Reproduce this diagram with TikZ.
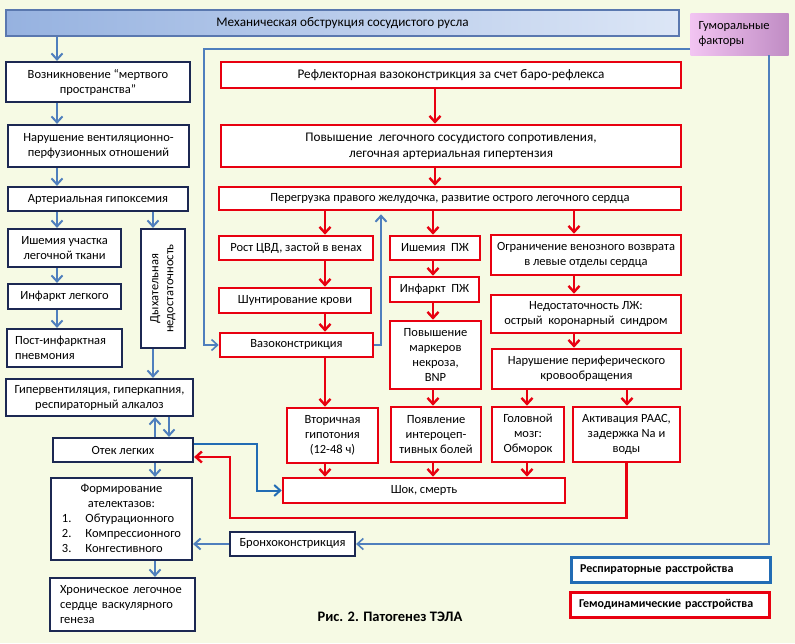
\documentclass[tikz,border=0pt]{standalone}
\usepackage{fontspec}
\setmainfont{Carlito}
\usetikzlibrary{arrows.meta}
\definecolor{bgcol}{RGB}{246,250,228}
\definecolor{navy}{RGB}{28,40,82}
\definecolor{hemored}{RGB}{232,0,16}
\definecolor{steel}{RGB}{79,127,189}
\definecolor{respblue}{RGB}{34,108,180}
\begin{document}
\begin{tikzpicture}[x=1pt,y=-1pt,
  >={Straight Barb[length=6pt,width=11pt]},
  every node/.style={font=\fontsize{12.5}{15}\selectfont,inner sep=2pt},
  bigtext/.style={font=\fontsize{13.2}{16}\selectfont},
  resbox/.style={draw=navy,line width=2.2pt,fill=white,align=center},
  hembox/.style={draw=hemored,line width=2.6pt,fill=white,align=center},
  resarr/.style={draw=steel,line width=2pt,->},
  hemarr/.style={draw=hemored,line width=2.4pt,->},
  humline/.style={draw=steel,line width=1.6pt,->},
  legbox/.style={line width=3pt,fill=white,align=left,inner xsep=9pt,text width=181pt,
    minimum height=25pt,font=\bfseries\fontsize{12}{14}\selectfont}]
\fill[bgcol] (0,0) rectangle (795,643);
\coordinate (lc) at (57,0);
\coordinate (dc) at (153,0);
\coordinate (ec1) at (155,0);
\coordinate (ec2) at (169,0);
\coordinate (r0) at (435,0);
\coordinate (r1) at (325,0);
\coordinate (r2) at (433,0);
\coordinate (r3) at (574,0);
\coordinate (r4) at (527,0);
\coordinate (r5) at (627,0);
\coordinate (vx) at (381,0);
\coordinate (sx) at (257,0);
\coordinate (hd) at (769,0);
\coordinate (hbend) at (204,49);
\coordinate (rloop) at (230,518);

\node[bigtext,draw={rgb,255:red,90;green,120;blue,175},line width=1.5pt,
  left color={rgb,255:red,150;green,178;blue,224},right color={rgb,255:red,220;green,230;blue,246},
  minimum width=673pt,minimum height=26pt] (top) at (342.5,23) {Механическая обструкция сосудистого русла};
\node[left color={rgb,255:red,242;green,196;blue,242},right color={rgb,255:red,192;green,140;blue,196},
  align=left,text width=82pt,inner xsep=8pt,minimum height=42pt] (hum) at (739.5,34) {Гуморальные\\факторы};

\node[resbox,minimum width=184pt,minimum height=40pt] (dead) at (98,82) {Возникновение “мертвого\\пространства”};
\node[resbox,minimum width=181pt,minimum height=42pt] (vq) at (98.5,146) {Нарушение вентиляционно-\\перфузионных отношений};
\node[resbox,minimum width=180pt,minimum height=24pt] (hypox) at (98,199) {Артериальная гипоксемия};
\node[resbox,minimum width=113pt,minimum height=38pt] (isch) at (64.5,248) {Ишемия участка\\легочной ткани};
\node[resbox,minimum width=113pt,minimum height=25pt] (infl) at (64.5,296.5) {Инфаркт легкого};
\node[resbox,align=left,text width=99pt,inner xsep=8pt,minimum height=38pt] (pneum) at (64.5,348) {Пост-инфарктная\\пневмония};
\node[resbox,rotate=90,minimum width=119pt,minimum height=44pt] (resp) at (163,288.5) {Дыхательная\\недостаточность};
\node[resbox,minimum width=187pt,minimum height=37pt] (hyper) at (99.5,397.5) {Гипервентиляция, гиперкапния,\\респираторный алкалоз};
\node[resbox,minimum width=140pt,minimum height=24pt] (edema) at (123,450) {Отек легких};
\node[resbox,minimum width=141pt,minimum height=82pt] (atel) at (121.5,519) {\begin{tabular}{@{}l@{\hspace{14pt}}l@{}}
  \multicolumn{2}{c}{Формирование}\\ \multicolumn{2}{c}{ателектазов:}\\
  1. & Обтурационного\\ 2. & Компрессионного\\ 3. & Конгестивного\end{tabular}};
\node[resbox,align=left,text width=125pt,inner xsep=10pt,minimum height=53pt] (chron) at (122.5,604.5) {Хроническое легочное\\сердце васкулярного\\генеза};
\node[resbox,minimum width=125pt,minimum height=24pt] (broncho) at (292.5,544) {Бронхоконстрикция};

\node[hembox,bigtext,minimum width=460pt,minimum height=26pt] (refl) at (451,75) {Рефлекторная вазоконстрикция за счет баро-рефлекса};
\node[hembox,bigtext,minimum width=460pt,minimum height=42pt] (res) at (451,146) {Повышение\ \ легочного сосудистого сопротивления,\\легочная артериальная гипертензия};
\node[hembox,minimum width=462pt,minimum height=23pt] (over) at (450,198.5) {Перегрузка правого желудочка, развитие острого легочного сердца};
\node[hembox,minimum width=154pt,minimum height=24pt] (cvp) at (296,248) {Рост ЦВД, застой в венах};
\node[hembox,minimum width=152pt,minimum height=25pt] (shunt) at (295,300.5) {Шунтирование крови};
\node[hembox,minimum width=153pt,minimum height=24pt] (vaso) at (296.5,345) {Вазоконстрикция};
\node[hembox,minimum width=90pt,minimum height=24pt] (rvisch) at (435,248) {Ишемия\ \ ПЖ};
\node[hembox,minimum width=89pt,minimum height=25pt] (rvinf) at (434.5,289.5) {Инфаркт\ \ ПЖ};
\node[hembox,minimum width=91pt,minimum height=68pt] (mark) at (435.5,355) {Повышение\\маркеров\\некроза,\\BNP};
\node[hembox,minimum width=190pt,minimum height=40pt] (venret) at (586,255) {Ограничение венозного возврата\\в левые отделы сердца};
\node[hembox,minimum width=190pt,minimum height=38pt] (lvf) at (586,314) {Недостаточность ЛЖ:\\острый\ \ коронарный\ \ синдром};
\node[hembox,minimum width=189pt,minimum height=40pt] (perif) at (586.5,369) {Нарушение периферического\\кровообращения};
\node[hembox,minimum width=91pt,minimum height=55pt] (hypot) at (332.5,435.5) {Вторичная\\гипотония\\(12-48 ч)};
\node[hembox,minimum width=90pt,minimum height=55pt] (pain) at (436,434.5) {Появление\\интероцеп-\\тивных болей};
\node[hembox,minimum width=72pt,minimum height=55pt] (brain) at (528,434.5) {Головной\\мозг:\\Обморок};
\node[hembox,minimum width=107pt,minimum height=55pt] (raas) at (626.5,434.5) {Активация РААС,\\задержка Na и\\воды};
\node[hembox,minimum width=282pt,minimum height=25pt] (shock) at (424,490.5) {Шок, смерть};

\node[legbox,draw=respblue] (lresp) at (670.5,569.5) {Респираторные расстройства};
\node[legbox,draw=hemored] (lhemo) at (669.5,604.5) {Гемодинамические расстройства};
\node[font=\bfseries\fontsize{14.5}{16}\selectfont] (cap) at (390,617) {Рис. 2. Патогенез ТЭЛА};

\draw[resarr] (top.south -| lc) -- (dead.north -| lc);
\draw[resarr] (dead.south -| lc) -- (vq.north -| lc);
\draw[resarr] (vq.south -| lc) -- (hypox.north -| lc);
\draw[resarr] (hypox.south -| lc) -- (isch.north -| lc);
\draw[resarr] (isch.south -| lc) -- (infl.north -| lc);
\draw[resarr] (infl.south -| lc) -- (pneum.north -| lc);
\draw[resarr] (hypox.south -| dc) -- (resp.east -| dc);
\draw[resarr] (resp.west -| dc) -- (hyper.north -| dc);
\draw[resarr] (edema.north -| ec1) -- (hyper.south -| ec1);
\draw[resarr] (hyper.south -| ec2) -- (edema.north -| ec2);
\draw[resarr] (edema.south -| ec1) -- (atel.north -| ec1);
\draw[resarr] (atel.south -| ec1) -- (chron.north -| ec1);
\draw[resarr] (broncho.west) -- (broncho.west -| atel.east);
\draw[resarr,draw=respblue] ([yshift=6pt]edema.east) -| (sx |- shock.west) -- (shock.west);
\draw[resarr,shorten >=3pt] (vaso.east) -| (over.south -| vx);
\draw[humline] (hum.west |- hbend) -- (hbend) |- (vaso.west);
\draw[humline] (hum.south -| hd) |- (broncho.east);

\draw[hemarr] (refl.south -| r0) -- (res.north -| r0);
\draw[hemarr] (res.south -| r0) -- (over.north -| r0);
\draw[hemarr] (over.south -| r1) -- (cvp.north -| r1);
\draw[hemarr] (over.south -| r2) -- (rvisch.north -| r2);
\draw[hemarr] (over.south -| r3) -- (venret.north -| r3);
\draw[hemarr] (cvp.south -| r1) -- (shunt.north -| r1);
\draw[hemarr] (shunt.south -| r1) -- (vaso.north -| r1);
\draw[hemarr] (vaso.south -| r1) -- (hypot.north -| r1);
\draw[hemarr] (hypot.south -| r1) -- (shock.north -| r1);
\draw[hemarr] (rvisch.south -| r2) -- (rvinf.north -| r2);
\draw[hemarr] (rvinf.south -| r2) -- (mark.north -| r2);
\draw[hemarr] (mark.south -| r2) -- (pain.north -| r2);
\draw[hemarr] (pain.south -| r2) -- (shock.north -| r2);
\draw[hemarr] (venret.south -| r3) -- (lvf.north -| r3);
\draw[hemarr] (lvf.south -| r3) -- (perif.north -| r3);
\draw[hemarr] (perif.south -| r4) -- (brain.north -| r4);
\draw[hemarr] (brain.south -| r4) -- (shock.north -| r4);
\draw[hemarr] (perif.south -| r5) -- (raas.north -| r5);
\draw[hemarr] (raas.south) |- (rloop) |- ([yshift=-7pt]edema.east);
\end{tikzpicture}
\end{document}
